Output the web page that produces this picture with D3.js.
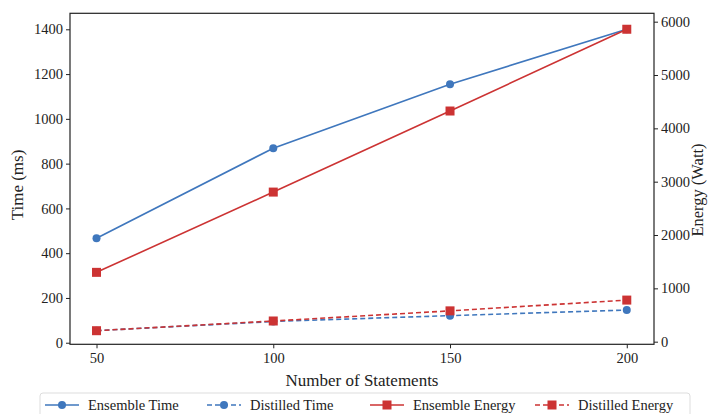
<!DOCTYPE html>
<html>
<head>
<meta charset="utf-8">
<script src="https://cdn.jsdelivr.net/npm/d3@7"></script>
<style>
  body { margin: 0; background: #fff; }
  svg text { font-family: "Liberation Serif", "DejaVu Serif", serif; fill: #222; }
</style>
</head>
<body>
<script>
// chart data
var statements = [50, 100, 150, 200];
var ensembleTime = [467, 869, 1155, 1400];
var distilledTime = [54, 95, 121, 146];
var ensembleEnergy = [1300, 2805, 4325, 5858];
var distilledEnergy = [206, 388, 578, 780];
var timeTicks = [0, 200, 400, 600, 800, 1000, 1200, 1400];
var energyTicks = [0, 1000, 2000, 3000, 4000, 5000, 6000];
var legendNames = ["Ensemble Time", "Distilled Time", "Ensemble Energy", "Distilled Energy"];

var w = 708;
var h = 414;
var blue = "#3f77bd";
var red = "#cc3333";
var serif = "'Liberation Serif', 'DejaVu Serif', serif";

var svg = d3.select("body").append("svg")
  .attr("width", w)
  .attr("height", h);

// scales, domains include matplotlib-like margins
var x = d3.scaleLinear().domain([42.5, 207.7]).range([70, 654]);
var yLeft = d3.scaleLinear().domain([-7, 1471.5]).range([344.3, 13.3]);
var yRight = d3.scaleLinear().domain([-49, 6157]).range([344.3, 13.3]);

// axes
svg.append("g")
  .attr("class", "x axis")
  .attr("transform", "translate(0,344.3)")
  .call(d3.axisBottom(x).tickValues(statements).tickSize(4).tickPadding(4));

svg.append("g")
  .attr("class", "y axis")
  .attr("transform", "translate(70,0)")
  .call(d3.axisLeft(yLeft).tickValues(timeTicks).tickFormat(d3.format("d")).tickSize(4).tickPadding(3));

svg.append("g")
  .attr("class", "y2 axis")
  .attr("transform", "translate(654,0)")
  .call(d3.axisRight(yRight).tickValues(energyTicks).tickFormat(d3.format("d")).tickSize(4).tickPadding(3));

svg.selectAll(".axis").attr("font-family", serif).attr("font-size", 14.5);
svg.selectAll(".axis text").style("font-family", serif).style("font-size", "14.5px");
svg.selectAll(".axis path, .axis line").attr("stroke", "#222");
svg.selectAll(".axis .domain").remove();

// frame
svg.append("rect")
  .attr("x", 70).attr("y", 13.3)
  .attr("width", 584).attr("height", 331)
  .attr("fill", "none")
  .attr("stroke", "#222")
  .attr("stroke-width", 1.2);

// labels
svg.append("text")
  .attr("x", 362).attr("y", 386)
  .attr("text-anchor", "middle")
  .style("font-size", "17px")
  .text("Number of Statements");

svg.append("text")
  .attr("transform", "translate(23,185) rotate(-90)")
  .attr("text-anchor", "middle")
  .style("font-size", "17px")
  .text("Time (ms)");

svg.append("text")
  .attr("transform", "translate(703,190) rotate(-90)")
  .attr("text-anchor", "middle")
  .style("font-size", "16.5px")
  .text("Energy (Watt)");

// series
var series = [
  {values: ensembleTime, scale: yLeft, color: blue, dash: null, marker: "circle"},
  {values: distilledTime, scale: yLeft, color: blue, dash: "5,3", marker: "circle"},
  {values: ensembleEnergy, scale: yRight, color: red, dash: null, marker: "square"},
  {values: distilledEnergy, scale: yRight, color: red, dash: "5,3", marker: "square"}
];

function drawMarker(g, type, color, cx, cy) {
  if (type == "circle") {
    g.append("circle").attr("cx", cx).attr("cy", cy).attr("r", 4).attr("fill", color);
  } else {
    g.append("rect").attr("x", cx - 4.5).attr("y", cy - 4.5)
      .attr("width", 9).attr("height", 9).attr("fill", color);
  }
}

series.forEach(function(s) {
  var line = d3.line()
    .x(function(d, i) { return x(statements[i]); })
    .y(function(d) { return s.scale(d); });
  var g = svg.append("g");
  g.append("path")
    .datum(s.values)
    .attr("d", line)
    .attr("fill", "none")
    .attr("stroke", s.color)
    .attr("stroke-width", 1.6)
    .attr("stroke-dasharray", s.dash);
  s.values.forEach(function(v, i) {
    drawMarker(g, s.marker, s.color, x(statements[i]), s.scale(v));
  });
});

// legend
var legend = svg.append("g");
legend.append("rect")
  .attr("x", 40).attr("y", 393)
  .attr("width", 650).attr("height", 26)
  .attr("rx", 3)
  .attr("fill", "#fff")
  .attr("stroke", "#ddd");

var legendX = [45, 207, 370, 535];
series.forEach(function(s, i) {
  var lx = legendX[i];
  legend.append("line")
    .attr("x1", lx).attr("x2", lx + 34)
    .attr("y1", 405).attr("y2", 405)
    .attr("stroke", s.color)
    .attr("stroke-width", 1.6)
    .attr("stroke-dasharray", s.dash);
  drawMarker(legend, s.marker, s.color, lx + 17, 405);
  legend.append("text")
    .attr("x", lx + 43).attr("y", 410)
    .style("font-size", "14.5px")
    .text(legendNames[i]);
});
</script>
</body>
</html>
